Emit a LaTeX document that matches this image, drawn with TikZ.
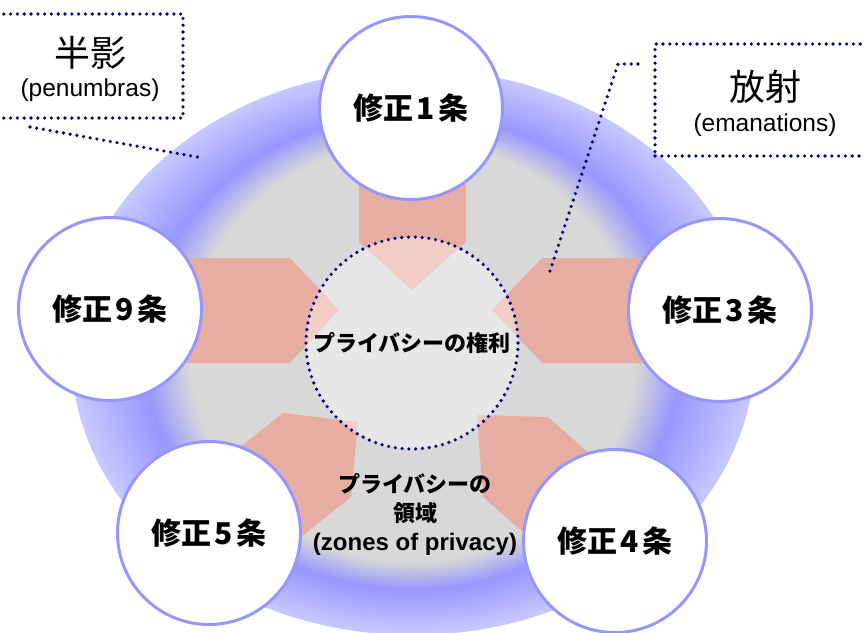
\documentclass[tikz,border=0pt]{standalone}
\usepackage{fontspec}
\setmainfont{Liberation Sans}
\newfontfamily\jp{Noto Sans CJK JP}
\definecolor{ringlight}{RGB}{200,200,255}
\definecolor{ringblue}{RGB}{152,152,255}
\definecolor{ringgray}{RGB}{216,216,216}
\definecolor{circblue}{RGB}{150,150,255}
\definecolor{navyd}{RGB}{0,0,128}
\definecolor{pinkfill}{RGB}{230,174,162}
\tikzset{
  amend/.style={circle, draw=circblue, line width=3pt, fill=white, minimum size=183pt, inner sep=0pt, font=\jp\bfseries\fontsize{30}{34}\selectfont},
  dotline/.style={draw=navyd, line width=3.6pt, dash pattern=on 0pt off 6.8pt, line cap=round},
  arrowfill/.style={fill=pinkfill},
  calloutbox/.style={rectangle, dotline, inner sep=0pt},
  bigjp/.style={font=\jp\fontsize{36}{40}\selectfont, inner sep=0pt},
  sublat/.style={font=\fontsize{24.5}{28}\selectfont, inner sep=0pt},
}
\begin{document}
\begin{tikzpicture}[x=1pt,y=-1pt]
\useasboundingbox (0,0) rectangle (864,632);
% ring with gradient
\foreach \i in {0,...,60}{
  \pgfmathsetmacro\t{\i/60}
  \pgfmathsetmacro\rx{342-118*\t}
  \pgfmathsetmacro\ry{283-72*\t}
  \ifdim\t pt<0.62pt
    \pgfmathtruncatemacro\p{100*(1-\t/0.62)}
    \colorlet{cc}{ringlight!\p!ringblue}
  \else
    \pgfmathtruncatemacro\p{100*(\t-0.62)/0.38}
    \colorlet{cc}{ringgray!\p!ringblue}
  \fi
  \fill[cc] (413,352) ellipse [x radius=\rx, y radius=\ry];
}
% arrows
\path[arrowfill] (359,150) -- (359,242) -- (412,290) -- (466,242) -- (466,150) -- cycle;
\path[arrowfill] (150,258) -- (290,258) -- (339,310) -- (290,363) -- (150,363) -- cycle;
\path[arrowfill] (700,258) -- (542,258) -- (492,310) -- (542,363) -- (700,363) -- cycle;
\path[arrowfill] (166,506) -- (283,413) -- (358,422) -- (351,497) -- (234,590) -- cycle;
\path[arrowfill] (660,516) -- (548,417) -- (477,415) -- (483,497) -- (595,596) -- cycle;
% core
\node[circle, minimum size=212pt, inner sep=0pt, fill=white, fill opacity=0.4, text opacity=1, dotline,
      font=\jp\bfseries\fontsize{22}{26}\selectfont] (core) at (412,343) {プライバシーの権利};
% amendment circles
\node[amend] (c1) at (411,108) {修正\hspace{.12em}1\hspace{.12em}条};
\node[amend] (c9) at (110,309) {修正\hspace{.12em}9\hspace{.12em}条};
\node[amend] (c3) at (720,310) {修正\hspace{.12em}3\hspace{.12em}条};
\node[amend] (c5) at (209,533) {修正\hspace{.12em}5\hspace{.12em}条};
\node[amend] (c4) at (615,541) {修正\hspace{.12em}4\hspace{.12em}条};
% zone text
\node[align=center, inner sep=0pt, font=\jp\bfseries\fontsize{22}{29}\selectfont] (zone) at (415,514)
  {プライバシーの\\領域\\{\rmfamily\bfseries\fontsize{24}{29}\selectfont (zones of privacy)}};
% callouts
\node[calloutbox, minimum width=186pt, minimum height=104pt] (pbox) at (90,66) {};
\node[bigjp] (ptitle) at (90,53) {半影};
\node[sublat] (psub) at (90,90) {(penumbras)};
\node[calloutbox, minimum width=220pt, minimum height=112pt] (ebox) at (765,100) {};
\node[bigjp] (etitle) at (765,87) {放射};
\node[sublat] (esub) at (765,125) {(emanations)};
% leaders
\coordinate (pl1) at (30,127);
\coordinate (pl2) at (203,158);
\draw[dotline] (pl1) -- (pl2);
\coordinate (el1) at (638,64);
\coordinate (el2) at (618,64);
\coordinate (el3) at (548,277);
\draw[dotline] (el1) -- (el2) -- (el3);
\end{tikzpicture}
\end{document}
